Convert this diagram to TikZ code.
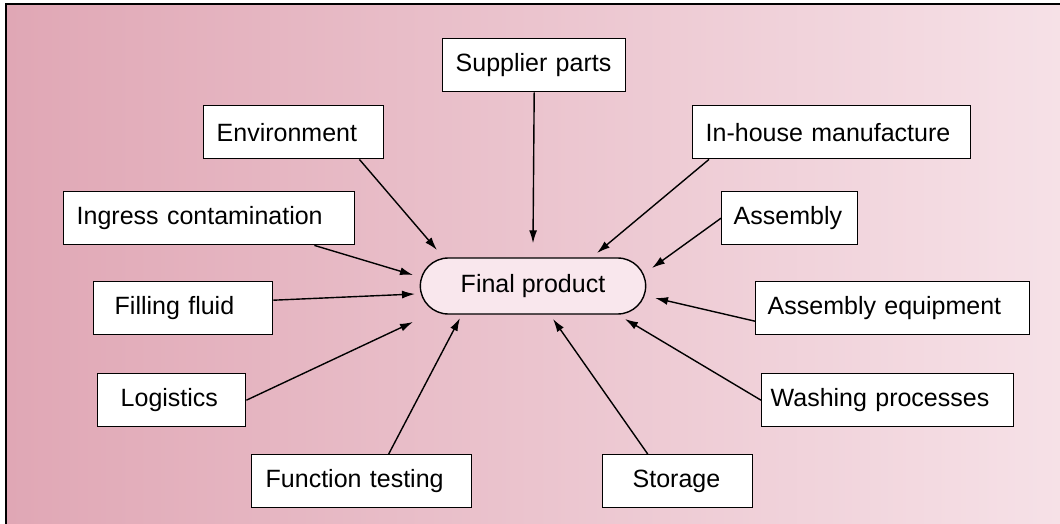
\documentclass[tikz,border=0pt]{standalone}
\usepackage{fontspec}
\setmainfont{Liberation Sans}
\usepackage{tikz}
\usetikzlibrary{
    arrows.meta,
    shapes.misc
}
\definecolor{bgleft}{RGB}{224,167,181}
\definecolor{bgright}{RGB}{246,225,231}
\definecolor{prodfill}{RGB}{249,231,237}

\begin{document}
\begin{tikzpicture}[x=1pt, y=-1pt,
        item/.style={draw, fill=white, line width=1.4pt, anchor=north west, align=left,
            minimum height=53pt, inner ysep=0pt, font=\fontsize{25}{30}\selectfont},
        product/.style={draw, fill=prodfill, rounded rectangle, line width=1.4pt,
            minimum width=232pt, minimum height=56pt, font=\fontsize{25}{30}\selectfont},
        feed/.style={-{Latex[length=13pt,width=8pt]}, line width=1.4pt}]
                        \useasboundingbox (0,0) rectangle (1060,524);
                        \fill[left color=bgleft, right color=bgright] (6,4) rectangle (1060,524);
                        \draw[line width=2pt] (6,524) -- (6,4) -- (1060,4);

                        \node[product] (fp) at (533,286) {Final product};

                        \node[item, text width=157pt, inner xsep=13pt] (sup) at (442,38) {Supplier parts};
                        \node[item, text width=154pt, inner xsep=13pt] (env) at (203,105) {Environment};
                        \node[item, text width=252pt, inner xsep=13pt] (inh) at (692,105) {In-house manufacture};
                        \node[item, text width=112pt, inner xsep=12pt] (asm) at (721,191) {Assembly};
                        \node[item, text width=265pt, inner xsep=13pt] (ing) at (63,191) {Ingress contamination};
                        \node[item, text width=137pt, inner xsep=21pt] (fil) at (93,281) {Filling fluid};
                        \node[item, text width=250pt, inner xsep=12pt] (aeq) at (755,281) {Assembly equipment};
                        \node[item, text width=102pt, inner xsep=23pt] (log) at (97,373) {Logistics};
                        \node[item, text width=234pt, inner xsep=9pt] (wsh) at (761,373) {Washing processes};
                        \node[item, text width=192pt, inner xsep=14pt] (fun) at (251,454) {Function testing};
                        \node[item, text width=90pt, inner xsep=30pt] (sto) at (602,454) {Storage};

                        \draw[feed] (sup.south) -- ([yshift=14pt]fp.north);
                        \draw[feed] ([xshift=-25pt]env.south east) -- ([shift={(-96pt,36pt)}]fp.center);
                        \draw[feed] ([xshift=17pt]inh.south west) -- ([shift={(64pt,33pt)}]fp.center);
                        \draw[feed] (asm.west) -- ([shift={(119pt,18pt)}]fp.center);
                        \draw[feed] ([xshift=-41pt]ing.south east) -- ([shift={(-120pt,11pt)}]fp.center);
                        \draw[feed] ([yshift=8pt]fil.east) -- ([shift={(-118pt,-8pt)}]fp.center);
                        \draw[feed] ([yshift=-13pt]aeq.west) -- ([shift={(122pt,-12pt)}]fp.center);
                        \draw[feed] (log.east) -- ([shift={(-120pt,-36pt)}]fp.center);
                        \draw[feed] (wsh.west) -- ([shift={(92pt,-33pt)}]fp.center);
                        \draw[feed] ([xshift=27pt]fun.north) -- ([shift={(-73pt,-32pt)}]fp.center);
                        \draw[feed] ([xshift=-30pt]sto.north) -- ([shift={(20pt,-33pt)}]fp.center);
\end{tikzpicture}
\end{document}
